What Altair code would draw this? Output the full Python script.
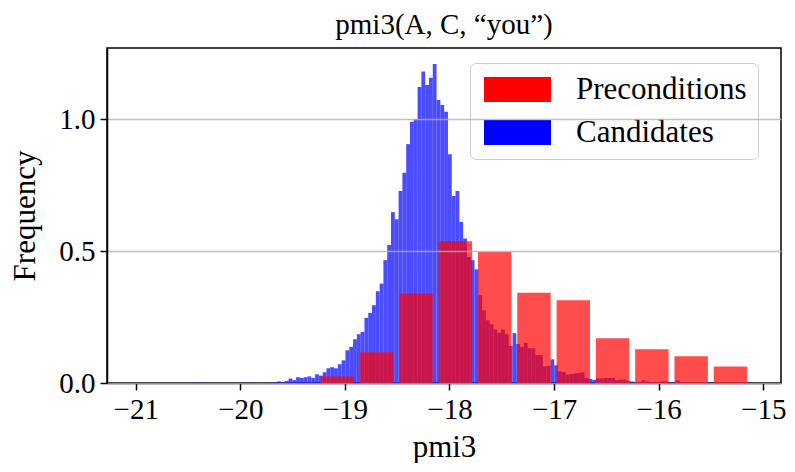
import altair as alt
import pandas as pd

FONT = "Liberation Serif"

# Candidates histogram (density), narrow bins
blue_start = -20.4105
blue_width = 0.0363
blue_density = [
    0.002, 0, 0, 0, 0, 0, 0, 0, 0, 0, 0, 0, 0,
    0.002, 0, 0, 0, 0, 0.002, 0, 0.004, 0.006, 0.003, 0.008,
    0.017, 0.011, 0.022, 0.019, 0.022, 0.025, 0.019, 0.033, 0.028, 0.041,
    0.056, 0.060, 0.056, 0.071, 0.086, 0.124, 0.137, 0.166, 0.185, 0.194,
    0.247, 0.266, 0.295, 0.348, 0.377, 0.466, 0.523, 0.648, 0.621, 0.728,
    0.797, 0.906, 0.991, 1.000, 1.123, 1.181, 1.130, 1.158, 1.210, 1.073,
    1.054, 1.029, 0.868, 0.709, 0.728, 0.611, 0.548, 0.478, 0.466, 0.431,
    0.333, 0.276, 0.238, 0.223, 0.203, 0.190, 0.203, 0.185, 0.141, 0.189,
    0.148, 0.137, 0.152, 0.132, 0.132, 0.106, 0.106, 0.063, 0.065, 0.090,
    0.067, 0.044, 0.042, 0.032, 0.034, 0.036, 0.038, 0.040, 0.019, 0.015,
    0.012, 0.017, 0.017, 0.019, 0.019, 0.019, 0.011, 0.013, 0.013, 0.008,
    0.006, 0.004, 0.004, 0.010, 0.006, 0.004, 0.004, 0.003, 0.006, 0.006,
    0.003, 0.003, 0.010, 0.002, 0.002, 0.002, 0.001, 0.002, 0.001, 0.001,
    0.002, 0.001, 0.001, 0, 0.001, 0.001, 0, 0.001, 0, 0.001, 0, 0.001,
]

# Preconditions histogram (density), wide bins
red_start = -19.259
red_width = 0.3758
red_density = [0.025, 0.117, 0.339, 0.538, 0.497, 0.342, 0.314, 0.170, 0.128, 0.101, 0.063]
red_rwidth = 0.85

series_names = ["Preconditions", "Candidates"]
series_colors = ["#ff0000", "#0000ff"]

x_ticks = [-21, -20, -19, -18, -17, -16, -15]
y_ticks = [0.0, 0.5, 1.0]
x_domain = [-21.275, -14.83]
y_domain = [0, 1.2705]

blue_rows = []
for i, h in enumerate(blue_density):
    lo = blue_start + i * blue_width
    blue_rows.append({"series": "Candidates", "x0": lo, "x1": lo + blue_width, "y": h})
red_rows = []
pad = (1 - red_rwidth) / 2 * red_width
for i, h in enumerate(red_density):
    lo = red_start + i * red_width
    red_rows.append({"series": "Preconditions", "x0": lo + pad, "x1": lo + red_width - pad, "y": h})

blue_df = pd.DataFrame(blue_rows)
red_df = pd.DataFrame(red_rows)

color = alt.Color(
    "series:N",
    scale=alt.Scale(domain=series_names, range=series_colors),
    legend=alt.Legend(
        orient="none", legendX=363, legendY=15, title=None,
        symbolType="M-2.68,-1L2.68,-1L2.68,1L-2.68,1Z",
        symbolSize=625, symbolOffset=21, labelOffset=43,
        symbolOpacity=1, symbolStrokeWidth=0,
        labelFont=FONT, labelFontSize=31, labelColor="black", labelLimit=500,
        rowPadding=11, padding=11, cornerRadius=6,
        strokeColor="#cccccc", fillColor="white",
    ),
)

x_enc = alt.X(
    "x0:Q",
    scale=alt.Scale(domain=x_domain, nice=False, zero=False),
    axis=alt.Axis(values=x_ticks, format="d", title="pmi3", grid=False,
                  labelPadding=5, titlePadding=8),
)
y_enc = alt.Y(
    "y:Q",
    scale=alt.Scale(domain=y_domain, nice=False, zero=True),
    axis=alt.Axis(values=y_ticks, format=".1f", title="Frequency", grid=True,
                  gridColor="#b0b0b0", gridWidth=1.5, gridOpacity=0.8,
                  labelPadding=5, titlePadding=17, zindex=1),
)

blue = alt.Chart(blue_df).mark_rect(opacity=0.7, strokeWidth=0).encode(
    x=x_enc, x2="x1:Q", y=y_enc, y2=alt.datum(0), color=color
)
red = alt.Chart(red_df).mark_rect(opacity=0.7, strokeWidth=0).encode(
    x=x_enc, x2="x1:Q", y=y_enc, y2=alt.datum(0), color=color
)

chart = alt.layer(blue, red).properties(
    width=674, height=335,
    title=alt.TitleParams("pmi3(A, C, “you”)", font=FONT, fontSize=29,
                          fontWeight="normal", color="black", offset=8),
    padding={"left": 99, "top": 40, "right": 6, "bottom": 80},
    autosize=alt.AutoSizeParams(type="none"),
).configure_view(
    stroke="black", strokeWidth=1.5
).configure_axis(
    labelFont=FONT, labelFontSize=29, labelColor="black",
    titleFont=FONT, titleFontSize=31, titleFontWeight="normal", titleColor="black",
    domainColor="black", domainWidth=1.5, tickColor="black", tickWidth=1.5, tickSize=7,
)

chart.save("out.html", embed_options={"renderer": "svg", "actions": False})
